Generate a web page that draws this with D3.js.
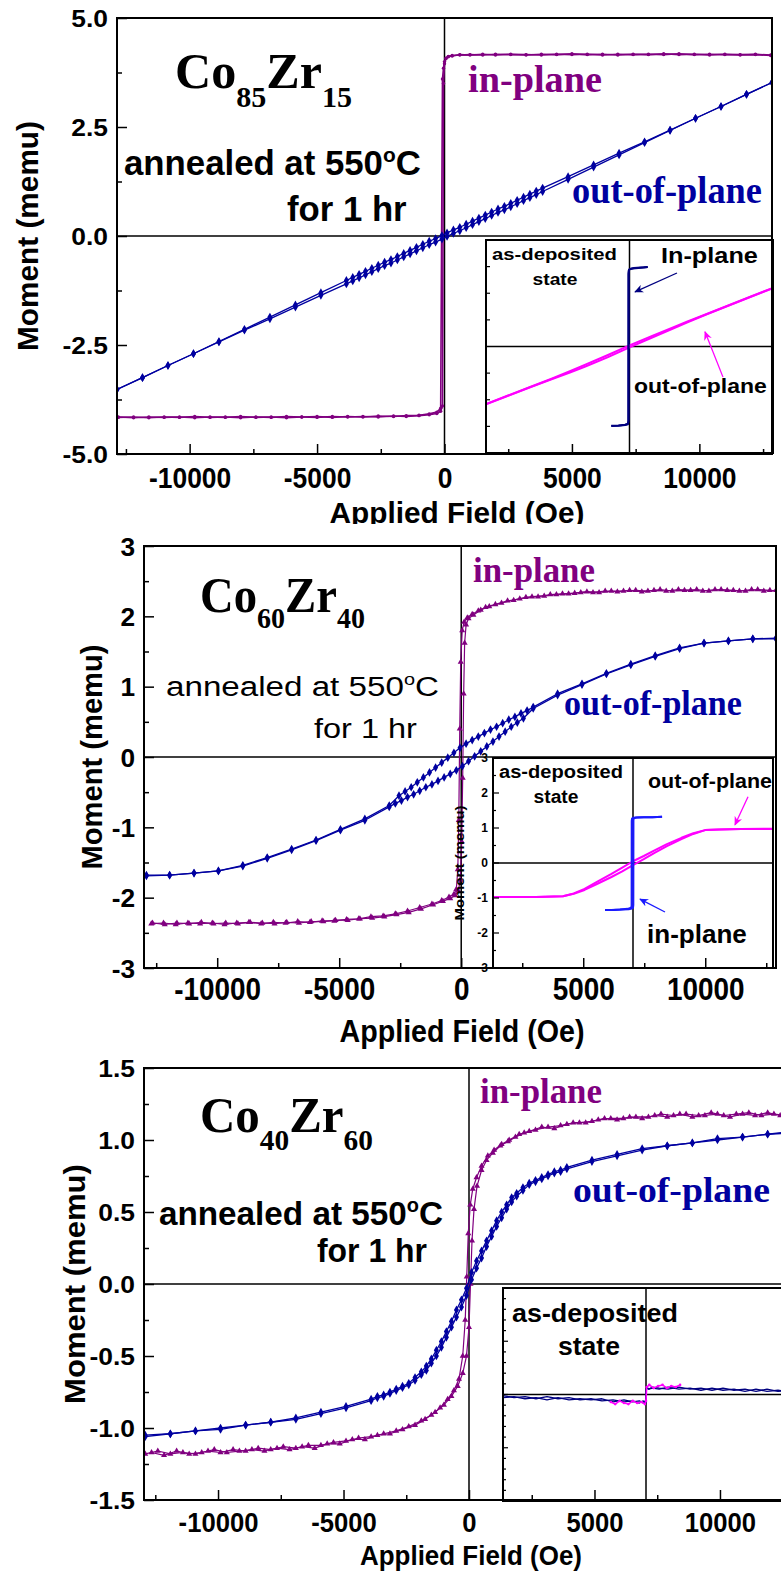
<!DOCTYPE html>
<html><head><meta charset="utf-8">
<script src="https://cdn.jsdelivr.net/npm/d3@7"></script>
<style>body{margin:0;background:#fff}svg{display:block}</style>
</head><body>
<svg id="c" width="781" height="1572"></svg>
<script>
// ================= DATA =================
const xTickValues=[-10000,-5000,0,5000,10000];
const xMinorValues=[-12500,-7500,-2500,2500,7500,12500];
const p1YTicks=[-5,-2.5,0,2.5,5], p1YMinor=[-3.75,-1.25,1.25,3.75];
const p2YTicks=[-3,-2,-1,0,1,2,3], p2YMinor=[-2.5,-1.5,-0.5,0.5,1.5,2.5];
const p3YTicks=[-1.5,-1,-0.5,0,0.5,1,1.5], p3YMinor=[-1.25,-0.75,-0.25,0.25,0.75,1.25];
const ins2YTicks=[-3,-2,-1,0,1,2,3];

const compositions=[['Co','85','Zr','15'],['Co','60','Zr','40'],['Co','40','Zr','60']];
const annealText=['annealed at 550','o','C','for 1 hr'];
const curveNames=['in-plane','out-of-plane'];
const insetNames=['as-deposited','state','In-plane','out-of-plane','in-plane'];
const axisTitles=['Applied Field (Oe)','Moment (memu)'];

// Panel 1 (Co85Zr15) in-plane
const p1InField=[-12800,-12200,-11600,-11000,-10400,-9800,-9200,-8600,-8000,-7400,-6800,-6200,-5600,-5000,-4400,-3800,-3200,-2600,-2000,-1500,-1000,-600,-300,-150,-80,-40,0,60,150,300,600,1000,1500,2000,2600,3200,3800,4400,5000,5600,6200,6800,7400,8000,8600,9200,9800,10400,11000,11600,12200,12800];
const p1InDown=[-4.16,-4.15,-4.17,-4.15,-4.16,-4.14,-4.16,-4.15,-4.17,-4.15,-4.16,-4.14,-4.15,-4.16,-4.14,-4.15,-4.14,-4.15,-4.13,-4.14,-4.12,-4.10,-4.07,-4.02,-3.90,3.50,3.95,4.08,4.12,4.14,4.15,4.16,4.15,4.17,4.16,4.15,4.17,4.16,4.18,4.16,4.17,4.15,4.17,4.16,4.18,4.16,4.17,4.15,4.17,4.16,4.17,4.15];
const p1InUp=[-4.15,-4.17,-4.15,-4.16,-4.15,-4.17,-4.15,-4.16,-4.14,-4.16,-4.15,-4.17,-4.15,-4.14,-4.16,-4.14,-4.15,-4.13,-4.14,-4.12,-4.11,-4.08,-4.04,-3.95,3.60,3.85,4.00,4.07,4.11,4.13,4.16,4.15,4.17,4.15,4.17,4.16,4.15,4.17,4.16,4.17,4.15,4.17,4.16,4.17,4.16,4.18,4.16,4.17,4.16,4.15,4.16,4.14];
// Panel 1 out-of-plane
const p1OutField=[-12850,-11850,-10850,-9850,-8850,-7850,-6850,-5850,-4850,-3850,-3600,-3350,-3100,-2850,-2600,-2350,-2100,-1850,-1600,-1350,-1100,-850,-600,-350,-100,100,350,600,850,1100,1350,1600,1850,2100,2350,2600,2850,3100,3350,3600,3850,4850,5850,6850,7850,8850,9850,10850,11850,12850];
const p1OutUpper=[-3.52,-3.25,-2.97,-2.70,-2.42,-2.14,-1.86,-1.58,-1.30,-1.02,-0.95,-0.88,-0.81,-0.74,-0.67,-0.60,-0.54,-0.47,-0.40,-0.33,-0.26,-0.19,-0.12,-0.06,0.01,0.07,0.14,0.20,0.27,0.34,0.41,0.48,0.55,0.62,0.68,0.75,0.82,0.89,0.96,1.03,1.10,1.36,1.63,1.90,2.16,2.43,2.70,2.97,3.25,3.52];
const p1OutLower=[-3.52,-3.25,-2.97,-2.70,-2.43,-2.16,-1.90,-1.63,-1.36,-1.10,-1.03,-0.96,-0.89,-0.82,-0.75,-0.68,-0.62,-0.55,-0.48,-0.41,-0.34,-0.27,-0.20,-0.14,-0.07,-0.01,0.06,0.12,0.19,0.26,0.33,0.40,0.47,0.54,0.60,0.67,0.74,0.81,0.88,0.95,1.02,1.30,1.58,1.86,2.14,2.42,2.70,2.97,3.25,3.52];

// Inset 1 (as-deposited Co85Zr15)
const ins1InUp=[[-1650,-2.99],[-1000,-2.98],[-400,-2.95],[-150,-2.92],[-100,-2.8],[-90,2.75],[-60,2.86],[0,2.9],[300,2.93],[800,2.95],[1300,2.97],[1650,2.99]];
const ins1InDown=[[1650,2.99],[1000,2.97],[400,2.95],[100,2.92],[-50,2.88],[-80,2.7],[-95,-2.78],[-130,-2.9],[-400,-2.94],[-1000,-2.97],[-1650,-2.98]];
const ins1OutDown=[[13000,2.20],[11000,1.88],[9000,1.55],[7000,1.22],[5200,0.93],[4000,0.73],[2000,0.39],[0,0.04],[-2000,-0.33],[-4000,-0.68],[-5400,-0.93],[-7000,-1.20],[-9000,-1.52],[-11000,-1.84],[-13000,-2.16]];
const ins1OutUp=[[-13000,-2.17],[-11000,-1.85],[-9000,-1.53],[-7000,-1.22],[-5400,-0.98],[-4000,-0.75],[-2000,-0.41],[0,-0.03],[2000,0.33],[4000,0.68],[5200,0.90],[7000,1.21],[9000,1.54],[11000,1.87],[13000,2.19]];
const ins1Arrows=[[[4300,2.76],[500,2.05]],[[8470,-1.15],[6840,0.55]]];

// Panel 2 (Co60Zr40)
const p2InDown=[[12900,2.37],[12400,2.36],[11900,2.38],[11400,2.36],[10900,2.37],[10400,2.38],[9900,2.36],[9400,2.37],[8900,2.38],[8400,2.36],[7900,2.37],[7400,2.35],[6900,2.37],[6400,2.35],[5900,2.36],[5400,2.34],[4900,2.34],[4400,2.32],[3900,2.31],[3400,2.29],[2900,2.28],[2400,2.25],[1900,2.22],[1400,2.17],[1000,2.13],[700,2.08],[450,2.03],[250,1.98],[120,1.92],[40,1.80],[-20,1.35],[-60,0.40],[-100,-0.9],[-140,-1.6],[-200,-1.88],[-300,-1.95],[-500,-1.99],[-800,-2.04],[-1200,-2.09],[-1700,-2.14],[-2200,-2.19],[-2700,-2.23],[-3200,-2.26],[-3700,-2.27],[-4200,-2.30],[-4700,-2.31],[-5200,-2.33],[-5700,-2.33],[-6200,-2.35],[-6700,-2.34],[-7200,-2.36],[-7700,-2.35],[-8200,-2.37],[-8700,-2.35],[-9200,-2.36],[-9700,-2.38],[-10200,-2.36],[-10700,-2.37],[-11200,-2.36],[-11700,-2.38],[-12200,-2.36],[-12700,-2.37]];
const p2InUp=[[-12650,-2.36],[-12150,-2.38],[-11650,-2.36],[-11150,-2.37],[-10650,-2.35],[-10150,-2.37],[-9650,-2.36],[-9150,-2.37],[-8650,-2.35],[-8150,-2.36],[-7650,-2.37],[-7150,-2.35],[-6650,-2.36],[-6150,-2.34],[-5650,-2.34],[-5150,-2.32],[-4650,-2.32],[-4150,-2.30],[-3650,-2.29],[-3150,-2.27],[-2650,-2.24],[-2150,-2.21],[-1650,-2.16],[-1150,-2.10],[-750,-2.05],[-450,-2.01],[-250,-1.97],[-120,-1.90],[-40,-1.75],[20,-1.2],[60,-0.3],[100,0.9],[140,1.62],[200,1.88],[300,1.97],[500,2.02],[800,2.09],[1150,2.14],[1650,2.19],[2150,2.23],[2650,2.27],[3150,2.28],[3650,2.31],[4150,2.32],[4650,2.33],[5150,2.35],[5650,2.34],[6150,2.36],[6650,2.36],[7150,2.37],[7650,2.36],[8150,2.38],[8650,2.36],[9150,2.37],[9650,2.38],[10150,2.36],[10650,2.38],[11150,2.37],[11650,2.36],[12150,2.38],[12650,2.37]];
const p2OutDown=[[12900,1.68],[11950,1.68],[10950,1.65],[9950,1.62],[8950,1.55],[7950,1.44],[6950,1.32],[5950,1.19],[4950,1.04],[3950,0.90],[2950,0.71],[2700,0.66],[2450,0.62],[2200,0.57],[1950,0.53],[1700,0.48],[1450,0.43],[1200,0.39],[950,0.34],[700,0.29],[450,0.24],[200,0.19],[-50,0.13],[-300,0.06],[-550,-0.01],[-800,-0.08],[-1050,-0.15],[-1300,-0.22],[-1550,-0.29],[-1800,-0.36],[-2050,-0.43],[-2300,-0.49],[-2550,-0.55],[-2950,-0.69],[-3950,-0.88],[-4950,-1.03],[-5950,-1.18],[-6950,-1.31],[-7950,-1.43],[-8950,-1.54],[-9950,-1.62],[-10950,-1.65],[-11950,-1.68],[-12900,-1.69]];
const p2OutUp=[[-12900,-1.68],[-11950,-1.68],[-10950,-1.65],[-9950,-1.62],[-8950,-1.55],[-7950,-1.44],[-6950,-1.32],[-5950,-1.19],[-4950,-1.04],[-3950,-0.90],[-2950,-0.71],[-2700,-0.66],[-2450,-0.62],[-2200,-0.57],[-1950,-0.53],[-1700,-0.48],[-1450,-0.43],[-1200,-0.39],[-950,-0.34],[-700,-0.29],[-450,-0.24],[-200,-0.19],[50,-0.13],[300,-0.06],[550,0.01],[800,0.08],[1050,0.15],[1300,0.22],[1550,0.29],[1800,0.36],[2050,0.43],[2300,0.49],[2550,0.55],[2950,0.69],[3950,0.88],[4950,1.03],[5950,1.18],[6950,1.31],[7950,1.43],[8950,1.54],[9950,1.62],[10950,1.65],[11950,1.68],[12900,1.69]];

// Inset 2 (as-deposited Co60Zr40)
const ins2InUp=[[-2600,-1.34],[-1800,-1.34],[-1000,-1.33],[-400,-1.32],[-100,-1.30],[0,-1.28],[30,-1.2],[40,1.22],[80,1.28],[300,1.30],[1000,1.31],[1800,1.31],[2700,1.32]];
const ins2InDown=[[2700,1.32],[1800,1.31],[1000,1.31],[400,1.30],[0,1.29],[-90,1.27],[-120,1.2],[-130,-1.22],[-170,-1.28],[-500,-1.31],[-1200,-1.33],[-2000,-1.34],[-2600,-1.34]];
const ins2OutUp=[[-13000,-0.97],[-9000,-0.97],[-6500,-0.95],[-5500,-0.88],[-4500,-0.77],[-3350,-0.60],[-2000,-0.40],[-1000,-0.24],[0,-0.06],[1000,0.11],[2000,0.29],[3150,0.48],[4500,0.68],[5600,0.83],[6700,0.94],[8000,0.96],[10000,0.97],[13000,0.97]];
const ins2OutDown=[[13000,0.98],[10000,0.97],[8000,0.96],[6700,0.94],[5600,0.85],[4500,0.72],[3150,0.54],[2000,0.36],[1000,0.20],[0,0.05],[-1000,-0.13],[-2000,-0.31],[-3350,-0.54],[-4500,-0.74],[-5500,-0.87],[-6500,-0.95],[-9000,-0.97],[-13000,-0.97]];
const ins2Arrows=[[[10680,1.89],[9470,1.09]],[[2970,-1.4],[650,-1.03]]];

// Panel 3 (Co40Zr60)
const p3InDown=[[12900,1.18],[12400,1.17],[11900,1.19],[11400,1.17],[10900,1.18],[10400,1.16],[9900,1.18],[9400,1.17],[8900,1.16],[8400,1.18],[7900,1.16],[7400,1.17],[6900,1.15],[6400,1.16],[5900,1.14],[5400,1.15],[4900,1.13],[4400,1.12],[3900,1.11],[3400,1.08],[2900,1.09],[2400,1.06],[2000,1.04],[1600,1.00],[1300,0.97],[1000,0.93],[750,0.89],[500,0.82],[300,0.74],[150,0.66],[50,0.55],[-30,0.35],[-90,0.05],[-150,-0.25],[-250,-0.5],[-400,-0.66],[-600,-0.74],[-850,-0.80],[-1150,-0.86],[-1500,-0.91],[-1900,-0.95],[-2400,-0.99],[-2900,-1.02],[-3400,-1.04],[-3900,-1.06],[-4400,-1.07],[-4900,-1.09],[-5400,-1.10],[-5900,-1.12],[-6400,-1.12],[-6900,-1.14],[-7400,-1.13],[-7900,-1.15],[-8400,-1.14],[-8900,-1.16],[-9400,-1.15],[-9900,-1.17],[-10400,-1.16],[-10900,-1.18],[-11400,-1.17],[-11900,-1.18],[-12400,-1.16],[-12900,-1.18]];
const p3InUp=[[-12650,-1.17],[-12150,-1.19],[-11650,-1.16],[-11150,-1.18],[-10650,-1.17],[-10150,-1.15],[-9650,-1.17],[-9150,-1.16],[-8650,-1.15],[-8150,-1.16],[-7650,-1.14],[-7150,-1.15],[-6650,-1.13],[-6150,-1.14],[-5650,-1.11],[-5150,-1.11],[-4650,-1.08],[-4150,-1.08],[-3650,-1.05],[-3150,-1.04],[-2650,-1.01],[-2150,-0.98],[-1750,-0.94],[-1350,-0.89],[-1000,-0.84],[-700,-0.78],[-450,-0.71],[-250,-0.62],[-100,-0.50],[0,-0.30],[60,0.00],[120,0.30],[200,0.52],[320,0.68],[500,0.79],[700,0.86],[950,0.91],[1250,0.96],[1550,0.99],[1850,1.02],[2200,1.05],[2650,1.07],[3150,1.09],[3650,1.10],[4150,1.12],[4650,1.12],[5150,1.14],[5650,1.15],[6150,1.15],[6650,1.16],[7150,1.16],[7650,1.18],[8150,1.17],[8650,1.18],[9150,1.17],[9650,1.19],[10150,1.17],[10650,1.18],[11150,1.19],[11650,1.17],[12150,1.18],[12650,1.17]];
const p3OutDown=[[12900,1.06],[11900,1.04],[10900,1.02],[9900,1.01],[8900,0.98],[7900,0.96],[6900,0.94],[5900,0.90],[4900,0.86],[3900,0.81],[3650,0.79],[3400,0.78],[3150,0.76],[2900,0.74],[2650,0.72],[2400,0.70],[2150,0.67],[1900,0.63],[1700,0.60],[1500,0.55],[1300,0.50],[1100,0.44],[900,0.37],[700,0.30],[500,0.23],[300,0.16],[100,0.08],[-100,-0.03],[-300,-0.11],[-500,-0.18],[-700,-0.26],[-900,-0.33],[-1100,-0.40],[-1300,-0.46],[-1500,-0.52],[-1700,-0.57],[-1900,-0.61],[-2150,-0.65],[-2400,-0.69],[-2650,-0.71],[-2900,-0.73],[-3150,-0.75],[-3400,-0.77],[-3650,-0.78],[-3900,-0.80],[-4900,-0.85],[-5900,-0.89],[-6900,-0.93],[-7900,-0.96],[-8900,-0.98],[-9900,-1.00],[-10900,-1.02],[-11900,-1.04],[-12900,-1.05]];
const p3OutUp=[[-12900,-1.06],[-11900,-1.04],[-10900,-1.02],[-9900,-1.01],[-8900,-0.98],[-7900,-0.96],[-6900,-0.94],[-5900,-0.90],[-4900,-0.86],[-3900,-0.81],[-3650,-0.79],[-3400,-0.78],[-3150,-0.76],[-2900,-0.74],[-2650,-0.72],[-2400,-0.70],[-2150,-0.67],[-1900,-0.63],[-1700,-0.60],[-1500,-0.55],[-1300,-0.50],[-1100,-0.44],[-900,-0.37],[-700,-0.30],[-500,-0.23],[-300,-0.16],[-100,-0.08],[100,0.03],[300,0.11],[500,0.18],[700,0.26],[900,0.33],[1100,0.40],[1300,0.46],[1500,0.52],[1700,0.57],[1900,0.61],[2150,0.65],[2400,0.69],[2650,0.71],[2900,0.73],[3150,0.75],[3400,0.77],[3650,0.78],[3900,0.80],[4900,0.85],[5900,0.89],[6900,0.93],[7900,0.96],[8900,0.98],[9900,1.00],[10900,1.02],[11900,1.04],[12900,1.05]];

// Inset 3 (as-deposited Co40Zr60)
const ins3LineA=[[-13000,-0.01],[-12000,-0.03],[-11000,-0.02],[-10000,-0.04],[-9000,-0.02],[-8000,-0.04],[-7000,-0.03],[-6000,-0.05],[-5000,-0.04],[-4000,-0.06],[-3000,-0.05],[-2000,-0.07],[-1200,-0.06],[-600,-0.08],[-250,-0.06],[-80,-0.08],[-20,-0.07],[20,0.04],[80,0.06],[250,0.05],[600,0.07],[1200,0.06],[2000,0.05],[3000,0.07],[4000,0.05],[5000,0.06],[6000,0.04],[7000,0.06],[8000,0.04],[9000,0.05],[10000,0.03],[11000,0.05],[12000,0.03],[13000,0.04]];
const ins3LineB=[[-13000,-0.03],[-12000,-0.02],[-11000,-0.04],[-10000,-0.03],[-9000,-0.05],[-8000,-0.03],[-7000,-0.05],[-6000,-0.04],[-5000,-0.05],[-4000,-0.04],[-3000,-0.07],[-2000,-0.05],[-1200,-0.07],[-600,-0.06],[-250,-0.08],[-80,-0.06],[-20,-0.08],[20,0.05],[80,0.07],[250,0.05],[600,0.06],[1200,0.05],[2000,0.07],[3000,0.05],[4000,0.06],[5000,0.04],[6000,0.06],[7000,0.04],[8000,0.05],[9000,0.03],[10000,0.05],[11000,0.03],[12000,0.04],[13000,0.03]];
const ins3Mag=[[-3200,-0.07],[-2800,-0.09],[-2400,-0.06],[-2000,-0.08],[-1600,-0.09],[-1200,-0.06],[-800,-0.08],[-400,-0.07],[-100,-0.09],[0,-0.06],[60,0.07],[300,0.09],[700,0.06],[1100,0.08],[1500,0.09],[1900,0.06],[2300,0.08],[2700,0.07],[3100,0.09]];

// ================= DRAWING =================
const W=781,H=1572;
const sans='"Liberation Sans", Arial, Helvetica, sans-serif';
const serif='"Liberation Serif", "Times New Roman", Times, serif';
const PURPLE='#800080', BLUE='#0000a0', NAVY='#000080', MAGENTA='#ff00ff', BBLUE='#1a1aff';

const svg=d3.select('#c');
const defs=svg.append('defs');
svg.append('rect').attr('width',W).attr('height',H).attr('fill','#fff');
let cid=0;
function makeClip(x,y,w,h){const id='cl'+(cid++);defs.append('clipPath').attr('id',id).append('rect').attr('x',x).attr('y',y).attr('width',w).attr('height',h);return 'url(#'+id+')';}
function arrowMarker(id,color){defs.append('marker').attr('id',id).attr('viewBox','0 0 10 10').attr('refX',9).attr('refY',5)
  .attr('markerWidth',9).attr('markerHeight',9).attr('markerUnits','userSpaceOnUse').attr('orient','auto')
  .append('path').attr('d','M0,0.5 L10,5 L0,9.5 L3,5 Z').attr('fill',color);}
arrowMarker('arN',NAVY);arrowMarker('arM',MAGENTA);arrowMarker('arB',BBLUE);

function addText(parent,o){
  const t=parent.append('text').attr('x',o.x).attr('y',o.y)
    .attr('font-family',o.family||sans).attr('font-weight',o.weight||'bold')
    .attr('font-size',o.size).attr('fill',o.fill||'#000').attr('text-anchor',o.anchor||'start');
  (o.parts||[{t:o.text}]).forEach(p=>{const ts=t.append('tspan').text(p.t);if(p.size)ts.attr('font-size',p.size);if(p.dy)ts.attr('dy',p.dy);});
  if(o.width){const bb=t.node().getBBox();const s=o.width/bb.width;const ax=(o.anchor==='middle')?o.x:bb.x;
    t.attr('transform',`translate(${ax},0) scale(${s},1) translate(${-ax},0)`);}
  return t;
}
function compParts(a,big,small,sh){return [{t:a[0]},{t:a[1],size:small,dy:sh},{t:a[2],size:big,dy:-sh},{t:a[3],size:small,dy:sh}];}
function annealParts(s){return [{t:annealText[0]},{t:annealText[1],size:s*0.6,dy:-s*0.38},{t:annealText[2],size:s,dy:s*0.38}];}

function drawSeries(g,x,y,s){
  g.append('path').datum(s.data).attr('d',d3.line().x(d=>x(d[0])).y(d=>y(d[1])))
    .attr('fill','none').attr('stroke',s.color).attr('stroke-width',s.width).attr('stroke-linejoin','round');
  if(s.marker==='dot'){
    g.selectAll(null).data(s.data).join('circle').attr('cx',d=>x(d[0])).attr('cy',d=>y(d[1])).attr('r',s.msize).attr('fill',s.color);
  } else if(s.marker){
    const sym=d3.symbol().type(s.marker==='tri'?d3.symbolTriangle:d3.symbolDiamond).size(s.msize);
    g.selectAll(null).data(s.data).join('path').attr('d',sym).attr('transform',d=>`translate(${x(d[0])},${y(d[1])})`).attr('fill',s.color);
  }
}

function drawInset(g,ins){
  const x=d3.scaleLinear().domain(ins.xDomain).range(ins.xRange);
  const y=d3.scaleLinear().domain(ins.yDomain).range(ins.yRange);
  const L=ins.xRange[0],R=ins.xRange[1],B=ins.yRange[0],T=ins.yRange[1];
  g.append('rect').attr('x',L).attr('y',T).attr('width',R-L).attr('height',B-T).attr('fill','#fff');
  const cg=g.append('g').attr('clip-path',makeClip(L,T,R-L,B-T));
  cg.append('line').attr('x1',L).attr('x2',R).attr('y1',y(0)).attr('y2',y(0)).attr('stroke','#000').attr('stroke-width',1.5);
  cg.append('line').attr('x1',x(0)).attr('x2',x(0)).attr('y1',T).attr('y2',B).attr('stroke','#000').attr('stroke-width',1.5);
  ins.series.forEach(s=>drawSeries(cg,x,y,s));
  (ins.arrows||[]).forEach(a=>{
    g.append('line').attr('x1',x(a.pts[0][0])).attr('y1',y(a.pts[0][1])).attr('x2',x(a.pts[1][0])).attr('y2',y(a.pts[1][1]))
     .attr('stroke',a.color).attr('stroke-width',1.3).attr('marker-end',`url(#${a.marker})`);
  });
  g.selectAll(null).data(ins.leftTicks).join('line').attr('x1',L).attr('x2',d=>L+d[1]).attr('y1',d=>y(d[0])).attr('y2',d=>y(d[0]))
    .attr('stroke','#000').attr('stroke-width',1.2);
  g.append('rect').attr('x',L).attr('y',T).attr('width',R-L).attr('height',B-T).attr('fill','none').attr('stroke','#000').attr('stroke-width',2);
  if(ins.tickLabels){
    g.selectAll(null).data(ins.tickLabels).join('text').attr('x',L-5).attr('y',d=>y(d)).attr('dy','0.35em')
      .attr('text-anchor','end').attr('font-family',sans).attr('font-weight','bold').attr('font-size',12).text(d=>String(d));
    const tg=g.append('g').attr('transform',`translate(${ins.yTitle.x},${y(0)}) rotate(-90)`);
    addText(tg,{x:0,y:0,text:axisTitles[1],size:13,anchor:'middle',width:ins.yTitle.w}).attr('dominant-baseline','central');
  }
  ins.texts.forEach(o=>addText(g,o));
}

function drawPanel(p){
  const g=svg.append('g');
  if(p.clip) g.attr('clip-path',makeClip(...p.clip));
  const x=d3.scaleLinear().domain(p.xDomain).range(p.xRange);
  const y=d3.scaleLinear().domain(p.yDomain).range(p.yRange);
  const L=p.xRange[0],R=p.xRange[1],B=p.yRange[0],T=p.yRange[1];
  const cg=g.append('g').attr('clip-path',makeClip(L,T,R-L,B-T));
  cg.append('line').attr('x1',L).attr('x2',R).attr('y1',y(0)).attr('y2',y(0)).attr('stroke','#000').attr('stroke-width',1.5);
  cg.append('line').attr('x1',x(0)).attr('x2',x(0)).attr('y1',T).attr('y2',B).attr('stroke','#000').attr('stroke-width',1.5);
  p.series.forEach(s=>drawSeries(cg,x,y,s));
  p.texts.forEach(o=>addText(g,o));
  if(p.inset) drawInset(g,p.inset);
  g.append('rect').attr('x',L).attr('y',T).attr('width',R-L).attr('height',B-T).attr('fill','none').attr('stroke','#000').attr('stroke-width',2);
  const xa=g.append('g').attr('transform',`translate(0,${B})`)
    .call(d3.axisBottom(x).tickValues(xTickValues).tickSize(-10).tickSizeOuter(0).tickFormat(d=>String(d)));
  const xm=g.append('g').attr('transform',`translate(0,${B})`)
    .call(d3.axisBottom(x).tickValues(xMinorValues).tickSize(-5).tickSizeOuter(0).tickFormat(''));
  const ya=g.append('g').attr('transform',`translate(${L},0)`)
    .call(d3.axisLeft(y).tickValues(p.yTicks).tickSize(-10).tickSizeOuter(0).tickPadding(9).tickFormat(p.yFormat));
  const ym=g.append('g').attr('transform',`translate(${L},0)`)
    .call(d3.axisLeft(y).tickValues(p.yMinor).tickSize(-5).tickSizeOuter(0).tickFormat(''));
  [xa,xm,ya,ym].forEach(a=>{a.select('.domain').remove();a.attr('font-size',null).attr('font-family',null);
    a.selectAll('line').attr('stroke','#000').attr('stroke-width',1.5);});
  xa.selectAll('text').attr('y',p.xTickBase).attr('dy',null).attr('fill','#000')
    .attr('font-family',sans).attr('font-weight','bold').attr('font-size',p.xTickFont).attr('transform',`scale(${p.xTickScale},1)`);
  ya.selectAll('text').attr('fill','#000').attr('font-family',sans).attr('font-weight','bold').attr('font-size',p.yTickFont)
    .attr('dy','0.36em').attr('transform',`translate(-9,0) scale(${p.yTickScale},1) translate(9,0)`);
  addText(g,{x:p.xTitle.x,y:p.xTitle.y,text:axisTitles[0],size:p.xTitle.size,anchor:'middle',width:p.xTitle.w});
  const tg=g.append('g').attr('transform',`translate(${p.yTitle.x},${p.yTitle.y}) rotate(-90)`);
  addText(tg,{x:0,y:0,text:axisTitles[1],size:30,anchor:'middle',width:p.yTitle.w}).attr('dominant-baseline','central');
}

const leftTicks=(vals,big,small,isBig)=>vals.map(v=>[v,isBig(v)?big:small]);

// ---------- Panel 1 ----------
drawPanel({
  clip:[0,0,W,524],
  xDomain:[-12850,12850], xRange:[117,772], yDomain:[-5,5], yRange:[454,18],
  yTicks:p1YTicks, yMinor:p1YMinor, yFormat:d=>d.toFixed(1),
  xTickFont:29, xTickScale:0.91, xTickBase:34, yTickFont:24, yTickScale:1.1,
  xTitle:{x:457,y:523,size:29,w:255}, yTitle:{x:27,y:236,w:230},
  series:[
    {data:d3.zip(p1InField,p1InDown),color:PURPLE,width:1.6,marker:'dot',msize:1.7},
    {data:d3.zip(p1InField,p1InUp),color:PURPLE,width:1.6,marker:'dot',msize:1.7},
    {data:d3.zip(p1OutField,p1OutUpper),color:BLUE,width:1.3,marker:'dia',msize:22},
    {data:d3.zip(p1OutField,p1OutLower),color:BLUE,width:1.3,marker:'dia',msize:22}
  ],
  texts:[
    {x:175,y:88,parts:compParts(compositions[0],50,30,19),size:50,family:serif,width:177},
    {x:124,y:175,parts:annealParts(35),size:35,width:297},
    {x:287,y:221,text:annealText[3],size:35,width:120},
    {x:468,y:92,text:curveNames[0],size:37,family:serif,fill:PURPLE,width:134},
    {x:572,y:203,text:curveNames[1],size:37,family:serif,fill:BLUE,width:190}
  ],
  inset:{
    xDomain:[-13000,13000], xRange:[486,773], yDomain:[-4,4], yRange:[453,240],
    leftTicks:leftTicks([-3,-2,-1,1,2,3],4,4,()=>true),
    series:[
      {data:ins1OutDown,color:MAGENTA,width:2},{data:ins1OutUp,color:MAGENTA,width:2},
      {data:ins1InUp,color:NAVY,width:2},{data:ins1InDown,color:NAVY,width:2}
    ],
    arrows:[{pts:ins1Arrows[0],color:NAVY,marker:'arN'},{pts:ins1Arrows[1],color:MAGENTA,marker:'arM'}],
    texts:[
      {x:492,y:260,text:insetNames[0],size:17,width:125},
      {x:555,y:285,text:insetNames[1],size:17,anchor:'middle',width:45},
      {x:661,y:263,text:insetNames[2],size:22,width:97},
      {x:634,y:393,text:insetNames[3],size:21,width:133}
    ]
  }
});

// ---------- Panel 2 ----------
drawPanel({
  xDomain:[-13000,12900], xRange:[144,776], yDomain:[-3,3], yRange:[968,546],
  yTicks:p2YTicks, yMinor:p2YMinor, yFormat:d=>String(d),
  xTickFont:31, xTickScale:0.9, xTickBase:32, yTickFont:25, yTickScale:1.05,
  xTitle:{x:462,y:1042,size:31,w:245}, yTitle:{x:91,y:757,w:225},
  series:[
    {data:p2InDown,color:PURPLE,width:1.2,marker:'tri',msize:16},
    {data:p2InUp,color:PURPLE,width:1.2,marker:'tri',msize:16},
    {data:p2OutDown,color:BLUE,width:1.3,marker:'dia',msize:22},
    {data:p2OutUp,color:BLUE,width:1.3,marker:'dia',msize:22}
  ],
  texts:[
    {x:200,y:612,parts:compParts(compositions[1],50,30,16),size:50,family:serif,width:165},
    {x:166,y:696,parts:annealParts(28),size:28,weight:'normal',width:273},
    {x:314,y:738,text:annealText[3],size:28,weight:'normal',width:103},
    {x:473,y:582,text:curveNames[0],size:35,family:serif,fill:PURPLE,width:122},
    {x:564,y:715,text:curveNames[1],size:35,family:serif,fill:BLUE,width:178}
  ],
  inset:{
    xDomain:[-13000,13000], xRange:[493,773], yDomain:[-3,3], yRange:[968,758],
    leftTicks:leftTicks(d3.range(-6,7).map(v=>v/2),6,3,v=>Number.isInteger(v)),
    tickLabels:ins2YTicks, yTitle:{x:459,w:115},
    series:[
      {data:ins2OutUp,color:MAGENTA,width:2},{data:ins2OutDown,color:MAGENTA,width:2},
      {data:ins2InUp,color:BBLUE,width:2},{data:ins2InDown,color:BBLUE,width:2}
    ],
    arrows:[{pts:ins2Arrows[0],color:MAGENTA,marker:'arM'},{pts:ins2Arrows[1],color:BBLUE,marker:'arB'}],
    texts:[
      {x:499,y:778,text:insetNames[0],size:19,width:124},
      {x:556,y:803,text:insetNames[1],size:19,anchor:'middle',width:45},
      {x:648,y:788,text:insetNames[3],size:20,width:124},
      {x:647,y:943,text:insetNames[4],size:25,width:100}
    ]
  }
});

// ---------- Panel 3 ----------
drawPanel({
  xDomain:[-12950,12950], xRange:[144,794], yDomain:[-1.5,1.5], yRange:[1500,1068],
  yTicks:p3YTicks, yMinor:p3YMinor, yFormat:d=>d.toFixed(1),
  xTickFont:27, xTickScale:0.95, xTickBase:32, yTickFont:24, yTickScale:1.1,
  xTitle:{x:471,y:1565,size:28,w:222}, yTitle:{x:74,y:1284,w:240},
  series:[
    {data:p3InDown,color:PURPLE,width:1.2,marker:'tri',msize:16},
    {data:p3InUp,color:PURPLE,width:1.2,marker:'tri',msize:16},
    {data:p3OutDown,color:BLUE,width:1.3,marker:'dia',msize:22},
    {data:p3OutUp,color:BLUE,width:1.3,marker:'dia',msize:22}
  ],
  texts:[
    {x:200,y:1132,parts:compParts(compositions[2],50,30,18),size:50,family:serif,width:173},
    {x:159,y:1225,parts:annealParts(34),size:34,width:284},
    {x:317,y:1262,text:annealText[3],size:34,width:110},
    {x:480,y:1103,text:curveNames[0],size:35,family:serif,fill:PURPLE,width:122},
    {x:573,y:1202,text:curveNames[1],size:35,family:serif,fill:BLUE,width:197}
  ],
  inset:{
    xDomain:[-13000,13000], xRange:[503,789], yDomain:[-1,1], yRange:[1501,1288],
    leftTicks:leftTicks(d3.range(-10,11).map(v=>v/10),5,3,v=>Math.abs(v*2-Math.round(v*2))<1e-9),
    series:[
      {data:ins3LineA,color:NAVY,width:1.3},{data:ins3LineB,color:NAVY,width:1.3},
      {data:ins3Mag,color:MAGENTA,width:1.6,marker:'dot',msize:1.3}
    ],
    texts:[
      {x:512,y:1322,text:insetNames[0],size:26,width:166},
      {x:589,y:1355,text:insetNames[1],size:26,anchor:'middle',width:62}
    ]
  }
});
</script>
</body></html>
